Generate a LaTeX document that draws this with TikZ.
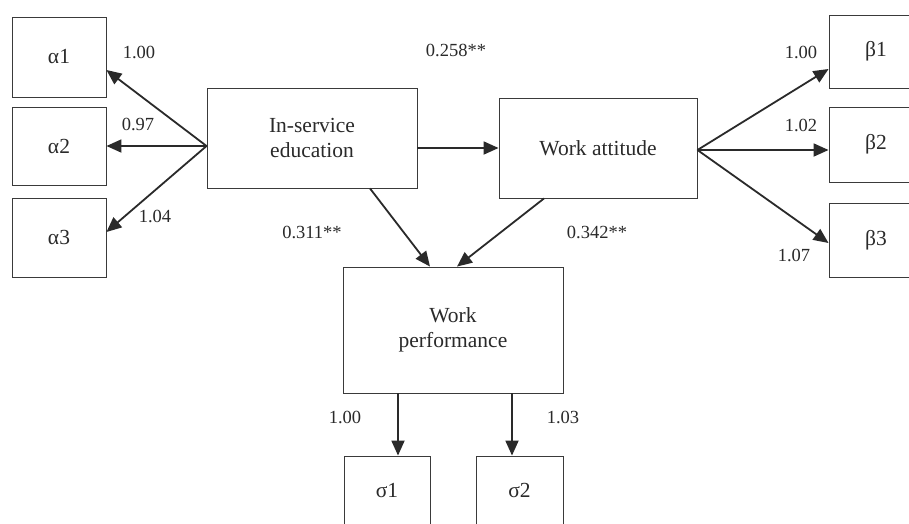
\documentclass[tikz,border=0pt]{standalone}
\usepackage{fontspec}
\setmainfont{Liberation Serif}
\usetikzlibrary{arrows.meta}
\definecolor{ink}{HTML}{2A2A2A}
\definecolor{edge}{HTML}{3A3A3A}
\tikzset{
  box/.style={draw=edge, line width=0.9pt, inner sep=0pt, align=center, text=ink,
    font=\fontsize{21.5}{25}\selectfont},
  lbl/.style={text=ink, inner sep=0pt, font=\fontsize{18.5}{20}\selectfont},
  arr/.style={draw=ink, line width=1.8pt, -{Triangle[length=15pt,width=13pt]}}
}
\begin{document}
\begin{tikzpicture}[x=1pt,y=-1pt]
\clip (0,0) rectangle (909,523);
\fill[white] (0,0) rectangle (909,523);
% indicator boxes
\node[box, minimum width=94pt, minimum height=80pt] (a1) at (59,57) {α1};
\node[box, minimum width=94pt, minimum height=78pt] (a2) at (59,146) {α2};
\node[box, minimum width=94pt, minimum height=79pt] (a3) at (59,237.5) {α3};
\node[box, minimum width=94pt, minimum height=73pt] (b1) at (876,51.5) {β1};
\node[box, minimum width=94pt, minimum height=75pt] (b2) at (876,144.5) {β2};
\node[box, minimum width=94pt, minimum height=74pt] (b3) at (876,240) {β3};
\node[box, minimum width=86pt, minimum height=68pt] (s1) at (387,490) {σ1};
\node[box, minimum width=87pt, minimum height=68pt] (s2) at (519.5,490) {σ2};
% latent boxes
\node[box, minimum width=210pt, minimum height=100pt] (ins) at (312,138) {In-service\\education};
\node[box, minimum width=198pt, minimum height=100pt] (wa) at (598,148) {Work attitude};
\node[box, minimum width=220pt, minimum height=126pt] (wp) at (453,330) {Work\\performance};
% connectors
\draw[arr] ([yshift=-8pt]ins.west) -- ([yshift=-13pt]a1.east);
\draw[arr] ([yshift=-8pt]ins.west) -- (a2.east);
\draw[arr] ([yshift=-8pt]ins.west) -- ([yshift=5.5pt]a3.east);
\draw[arr] ([yshift=-2pt]wa.east) -- ([yshift=-17.5pt]b1.west);
\draw[arr] ([yshift=-2pt]wa.east) -- ([yshift=-5.5pt]b2.west);
\draw[arr] ([yshift=-2pt]wa.east) -- ([yshift=-3pt]b3.west);
\draw[arr] (ins.east |- wa.west) -- (wa.west);
\draw[arr] ([xshift=58pt]ins.south) -- ([xshift=-23pt]wp.north);
\draw[arr] ([xshift=-54pt]wa.south) -- ([xshift=4pt]wp.north);
\draw[arr] ([xshift=11pt]s1.north |- wp.south) -- ([xshift=11pt]s1.north);
\draw[arr] ([xshift=-7.5pt]s2.north |- wp.south) -- ([xshift=-7.5pt]s2.north);
% labels
\node[lbl] (l1) at (139,52) {1.00};
\node[lbl] (l2) at (138,124) {0.97};
\node[lbl] (l3) at (155,216) {1.04};
\node[lbl] (l4) at (456,50) {0.258**};
\node[lbl] (l5) at (312,232) {0.311**};
\node[lbl] (l6) at (597,232) {0.342**};
\node[lbl] (l7) at (801,52) {1.00};
\node[lbl] (l8) at (801,125) {1.02};
\node[lbl] (l9) at (794,255) {1.07};
\node[lbl] (l10) at (345,417) {1.00};
\node[lbl] (l11) at (563,417) {1.03};
\end{tikzpicture}
\end{document}
